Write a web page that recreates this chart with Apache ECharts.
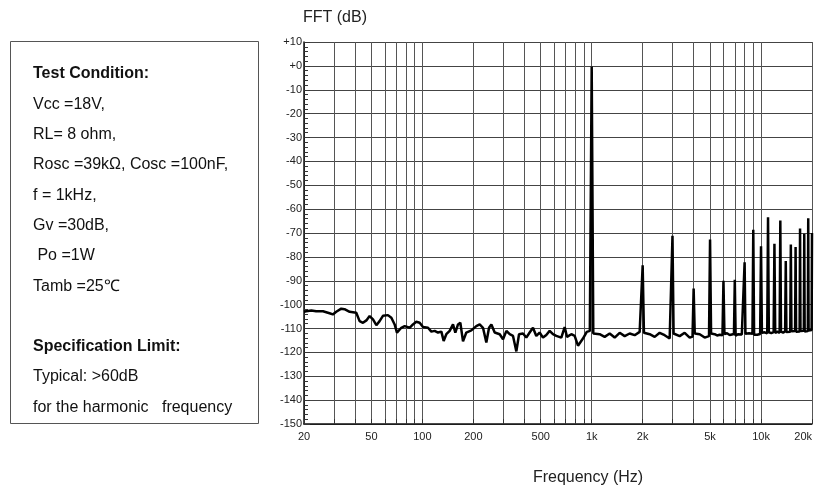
<!DOCTYPE html>
<html><head><meta charset="utf-8">
<script src="https://cdn.jsdelivr.net/npm/echarts@6/dist/echarts.min.js"></script>
<style>html,body{margin:0;padding:0;background:#fff}#c{width:816px;height:492px}</style>
</head><body><div id="c"></div>
<script>
// Noise floor samples (Hz, dB)
const noiseFreq = [20,20.6,22.1,23.6,25.9,28.3,29.6,31.0,33.2,34.7,37.2,40.7,42.6,44.6,46.7,48.8,51.1,53.5,55.9,58.5,62.6,65.6,68.6,70.8,75.1,78.6,84.1,88.0,92.1,96.4,100.9,108.0,113.0,118.2,123.7,129.5,133.6,138.5,145.0,151.7,156.6,162.4,167.6,173.8,181.8,194.6,208.2,218.0,228.1,238.7,247.6,255.6,267.4,286.3,299.6,313.5,327.9,343.1,359.0,372.3,392.9,411.1,430.1,450.0,470.9,492.7,515.5,539.5,564.5,590.6,618.0,661.7,692.4,714.7,758.1,793.2,830.0,849,888,935,975,
1022,1041,1114,1193,1277,1367,1463,1566,1676,1794,1920,1965,
2035,2055,2200,2355,2520,2697,2887,2955,
3045,3090,3308,3540,3790,3940,
4060,4342,4648,4930,
5070,5325,5500,5700,5920,
6080,6300,6530,6920,
7080,7300,7500,7700,7910,
8090,8300,8500,8700,8900,
9100,9300,9500,9880,
10120,10500,10880,
11120,11500,11870,
12130,12500,12880,
13120,13500,13880,
14120,14500,14880,
15120,15500,15890,
16110,16500,16900,
17100,17500,17900,
18100,18500,18900,
19100,19500,19900];
const noiseDb = [-103.0,-102.8,-102.5,-102.8,-102.8,-103.6,-104.1,-103.0,-101.7,-101.9,-103.0,-103.4,-106.9,-107.6,-106.6,-104.8,-106.2,-108.6,-106.9,-104.7,-104.4,-105.5,-108.3,-111.7,-109.7,-109.0,-109.7,-108.3,-107.2,-107.6,-109.4,-109.7,-111.3,-111.0,-111.7,-111.3,-115.2,-112.4,-111.0,-108.3,-111.7,-108.3,-107.6,-115.4,-111.7,-110.8,-109.0,-108.3,-109.7,-115.9,-109.7,-108.3,-111.7,-112.4,-114.5,-111.0,-112.4,-113.1,-119.6,-112.4,-112.1,-113.8,-111.7,-109.7,-113.1,-111.7,-113.8,-112.7,-111.0,-112.4,-113.1,-113.8,-109.4,-113.5,-112.4,-113.1,-117.2,-117.0,-114.2,-111.4,-111.0,
-112.1,-111.4,-112.4,-113.5,-112.1,-113.8,-111.8,-113.2,-112.1,-112.8,-111.4,-111.6,
-111.8,-111.8,-112.4,-113.5,-111.8,-112.8,-114.2,-113.6,
-112.1,-112.1,-113.2,-111.8,-113.8,-113.4,
-112.1,-112.4,-113.8,-113.2,
-112.1,-112.4,-112.9,-112.6,-112.8,
-112.3,-112.0,-112.7,-112.3,
-113.0,-112.4,-113.2,-112.5,-113.0,
-112.2,-112.6,-112.0,-112.8,-112.2,
-112.6,-111.9,-112.6,-112.3,
-111.8,-111.6,-112.0,
-111.6,-111.9,-111.5,
-111.9,-111.3,-111.8,
-111.3,-111.7,-111.2,
-111.5,-111.0,-111.4,
-111.2,-111.5,-111.0,
-111.4,-110.9,-111.3,
-111.0,-111.4,-110.9,
-111.3,-110.8,-111.1,
-110.8,-110.9,-110.6];
// Fundamental and harmonics
const harmonicFreq = [1000,2000,3000,4000,5000,6000,7000,8000,9000,10000,11000,12000,13000,14000,15000,16000,17000,18000,19000,20000];
const harmonicDb = [-0.3,-83.5,-71.2,-93.3,-72.7,-90.0,-89.6,-82.3,-68.6,-75.6,-63.4,-74.5,-64.8,-81.7,-74.8,-75.9,-68.1,-70.3,-63.8,-70.0];
const xLabelValues = [20,50,100,200,500,1000,2000,5000,10000,20000];
const xGridValues = [20,30,40,50,60,70,80,90,100,200,300,400,500,600,700,800,900,1000,2000,3000,4000,5000,6000,7000,8000,9000,10000,20000];
const conditionLines = ['Vcc =18V,','RL= 8 ohm,','Rosc =39k\u03a9, Cosc =100nF,','f = 1kHz,','Gv =30dB,',' Po =1W','Tamb =25\u2103'];
const specLines = ['Typical: >60dB','for the harmonic   frequency'];

const pts = [];
noiseFreq.forEach((f,i)=>pts.push([f,noiseDb[i]]));
harmonicFreq.forEach((f,i)=>pts.push([f,harmonicDb[i]]));
pts.sort((a,b)=>a[0]-b[0]);

const FONT = "'Liberation Sans', Arial, sans-serif";
const FS = 16;
const LS = 30.3;
function txt(x,y,t,bold){return {type:'text', x:x, y:y, style:{text:t, font:(bold?'bold ':'')+FS+'px '+FONT, fill:'#111', verticalAlign:'middle'}};}
const graphics = [
  {type:'rect', shape:{x:10.5,y:41.5,width:248,height:382}, style:{fill:'none',stroke:'#555',lineWidth:1}},
  txt(33,74,'Test Condition:',true)
];
conditionLines.forEach((t,i)=>graphics.push(txt(33,74+LS*(i+1),t,false)));
graphics.push(txt(33,74+LS*9,'Specification Limit:',true));
specLines.forEach((t,i)=>graphics.push(txt(33,74+LS*(10+i),t,false)));
graphics.push({type:'text', x:303, y:18, style:{text:'FFT (dB)', font:FS+'px '+FONT, fill:'#222', verticalAlign:'middle'}});
graphics.push({type:'text', x:588, y:478, style:{text:'Frequency (Hz)', font:FS+'px '+FONT, fill:'#222', align:'center', verticalAlign:'middle'}});

const chart = echarts.init(document.getElementById('c'), null, {renderer:'canvas'});
chart.setOption({
  animation:false,
  backgroundColor:'#fff',
  grid:{left:304, right:4, top:42, bottom:68, containLabel:false, outerBoundsMode:'none'},
  xAxis:{type:'log', logBase:10, min:20, max:20000,
    axisLine:{show:true, onZero:false, lineStyle:{color:'#111', width:1.5}},
    axisTick:{show:true, inside:true, length:5, customValues:xGridValues, lineStyle:{color:'#333'}},
    axisLabel:{show:true, customValues:xLabelValues, color:'#222', fontSize:11, fontFamily:FONT, margin:7,
      alignMaxLabel:'right', hideOverlap:false,
      formatter:v=> v>=1000 ? (v/1000)+'k' : String(v)},
    splitLine:{show:true, lineStyle:{color:'#555', width:1}},
    minorTick:{show:false}, minorSplitLine:{show:false}},
  yAxis:{type:'value', min:-150, max:10, interval:10,
    axisLine:{show:true, onZero:false, lineStyle:{color:'#111', width:1.5}},
    axisTick:{show:true, inside:true, length:6, lineStyle:{color:'#333'}},
    minorTick:{show:true, splitNumber:5, length:4, lineStyle:{color:'#333'}},
    axisLabel:{color:'#222', fontSize:11, fontFamily:FONT, margin:2,
      formatter:v=> v>0 ? '+'+v : (v===0 ? '+0' : String(v))},
    splitLine:{show:true, lineStyle:{color:'#444', width:1}}},
  series:[{type:'line', data:pts, showSymbol:false, symbol:'none',
    lineStyle:{color:'#000', width:2.5}, clip:true}],
  graphic:graphics
});
</script></body></html>
